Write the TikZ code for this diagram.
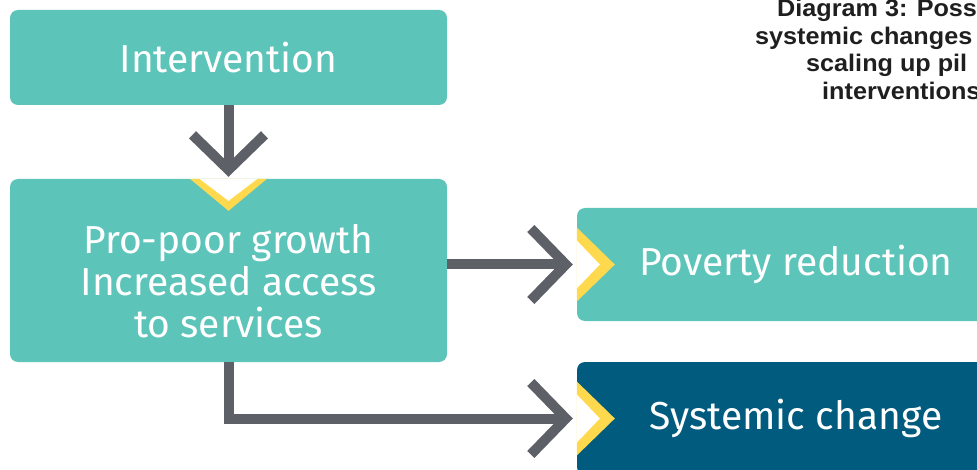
\documentclass[tikz,border=0pt]{standalone}
\usepackage{fontspec}
\setmainfont{Fira Sans}
\newfontfamily\titlefont[FakeStretch=1.05]{Liberation Sans}
\usetikzlibrary{arrows.meta}
\definecolor{boxteal}{RGB}{93,196,186}
\definecolor{boxblue}{RGB}{1,91,126}
\definecolor{notchyellow}{RGB}{255,217,77}
\definecolor{arrowgrey}{RGB}{94,96,104}
\tikzset{
  box/.style={
    rectangle,
    rounded corners=8pt,
    fill=boxteal,
    text=white,
    inner sep=0pt,
    font=\fontsize{39}{42}\selectfont
  },
  box-dark/.style={box, fill=boxblue},
  box-text/.style={text=white, align=center, inner sep=0pt, font=\fontsize{39}{42}\selectfont},
  flow/.style={draw=arrowgrey, line width=10pt, -{Straight Barb[sharp,length=35pt,width=72pt]}},
  title/.style={font=\titlefont\bfseries\fontsize{24}{28}\selectfont, text=black!88, inner sep=0pt, anchor=base west}
}
\newcommand{\notchdown}[1]{
  \fill[notchyellow] ([xshift=-38.5pt]#1.north) -- ([yshift=-32pt]#1.north) -- ([xshift=38.5pt]#1.north) -- cycle;
  \fill[white] ([xshift=-29pt]#1.north) -- ([yshift=-22pt]#1.north) -- ([xshift=29pt]#1.north) -- cycle;
}
\newcommand{\notchright}[1]{
  \fill[notchyellow] ([yshift=37pt]#1.west) -- ([xshift=38pt]#1.west) -- ([yshift=-37pt]#1.west) -- cycle;
  \fill[white] ([yshift=24pt]#1.west) -- ([xshift=23pt]#1.west) -- ([yshift=-24pt]#1.west) -- cycle;
}

\begin{document}
\begin{tikzpicture}[x=1pt, y=-1pt]
  \useasboundingbox (0,0) rectangle (977,470);
  % boxes
  \node[box, minimum width=437pt, minimum height=95pt] (int) at (228.5,57.5) {Intervention};
  \node[box, minimum width=437pt, minimum height=183pt] (pro) at (228.5,270.5) {};
  \node[box-text] (pro-text) at ([yshift=-11pt]pro.center) {Pro-poor growth\\Increased access\\to services};
  \node[box, minimum width=438pt, minimum height=113pt] (pov) at (796,264.5) {Poverty reduction};
  \node[box-dark, minimum width=438pt, minimum height=113pt] (sys) at (796,418.5) {Systemic change};
  % yellow notches
  \notchdown{pro}
  \notchright{pov}
  \notchright{sys}
  % arrows
  \draw[flow, shorten >=2pt] (int.south) -- (pro.north);
  \draw[flow, shorten >=4pt] (pro.east |- pov.west) -- (pov.west);
  \draw[flow, shorten >=4pt] (pro.south) |- (sys.west);
  % title
  \node[title] (title-1) at (777,17) {Diagram 3: Poss};
  \node[title] (title-2) at (755,44.5) {systemic changes};
  \node[title] (title-3) at (806,72) {scaling up pil};
  \node[title] (title-4) at (822,100) {interventions};
\end{tikzpicture}
\end{document}
